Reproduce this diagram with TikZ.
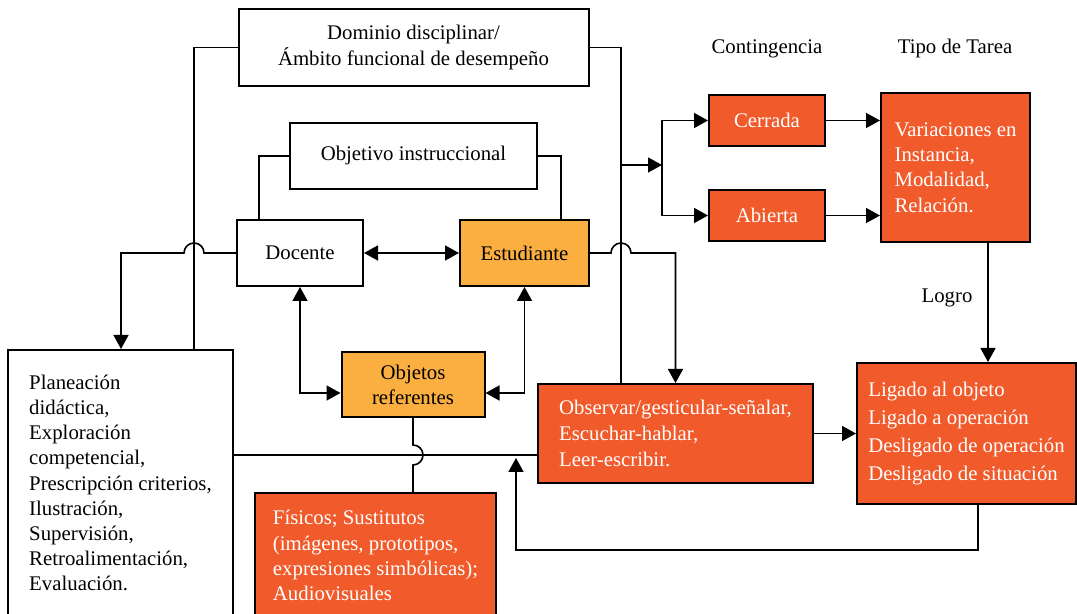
\documentclass[tikz,border=0pt]{standalone}
\usepackage{fontspec}
\setmainfont{Liberation Serif}
\usetikzlibrary{arrows.meta}
\definecolor{dorange}{HTML}{F15A2B}
\definecolor{lorange}{HTML}{FBAF40}
\begin{document}
\begin{tikzpicture}[x=0.5pt,y=-0.5pt,
  box/.style={draw=black,line width=1pt,align=left,inner sep=0pt,
    font=\fontsize{10.4}{12.6}\selectfont},
  cbox/.style={box,align=center},
  hot/.style={fill=dorange,text=white},
  warm/.style={fill=lorange},
  ln/.style={line width=0.8pt},
  arr/.style={ln,-{Triangle[length=7pt,width=7.5pt]}},
  arrb/.style={ln,{Triangle[length=7pt,width=7.5pt]}-{Triangle[length=7pt,width=7.5pt]}},
  lbl/.style={font=\fontsize{10.4}{12.6}\selectfont,inner sep=0pt}]
\useasboundingbox (0,0) rectangle (1077,614);
\clip (0,0) rectangle (1077,614);
\fill[white] (0,0) rectangle (1077,614);
% boxes
\node[cbox,minimum width=175pt,minimum height=38.5pt] (dom) at (413.5,47.5)
  {Dominio disciplinar/\\Ámbito funcional de desempeño};
\node[cbox,minimum width=123.5pt,minimum height=33pt] (obj) at (413.5,156) {Objetivo instruccional};
\node[cbox,minimum width=63pt,minimum height=33pt] (doc) at (300,253) {Docente};
\node[cbox,warm,minimum width=64.5pt,minimum height=33pt] (est) at (524.5,253) {Estudiante};
\node[cbox,warm,minimum width=71.5pt,minimum height=32.5pt] (ref) at (413,384.5) {Objetos\\referentes};
\node[box,minimum width=112.5pt,minimum height=133pt] (plan) at (120.5,483)
  {Planeación\\didáctica,\\Exploración\\competencial,\\Prescripción criterios,\\Ilustración,\\Supervisión,\\Retroalimentación,\\Evaluación.};
\node[box,hot,minimum width=120.5pt,minimum height=62.5pt] (fis) at (375.5,555.5)
  {Físicos; Sustitutos\\(imágenes, prototipos,\\expresiones simbólicas);\\Audiovisuales};
\node[box,hot,minimum width=137.5pt,minimum height=49.5pt,
  font=\fontsize{10.4}{12.9}\selectfont] (obs) at (675.5,433.5)
  {Observar/gesticular-señalar,\\Escuchar-hablar,\\Leer-escribir.};
\node[cbox,hot,minimum width=58pt,minimum height=25.5pt] (cer) at (767,120.5) {Cerrada};
\node[cbox,hot,minimum width=58pt,minimum height=25.5pt] (abi) at (767,215.5) {Abierta};
\node[box,hot,minimum width=74.5pt,minimum height=74.5pt] (var) at (955.5,167.5)
  {Variaciones en\\Instancia,\\Modalidad,\\Relación.};
\node[box,hot,minimum width=109.5pt,minimum height=70.5pt,
  font=\fontsize{10.4}{13.9}\selectfont] (lig) at (966.5,433.5)
  {Ligado al objeto\\Ligado a operación\\Desligado de operación\\Desligado de situación};
% labels
\node[lbl] (lcon) at (767,49) {Contingencia};
\node[lbl] (ltip) at (955,49) {Tipo de Tarea};
\node[lbl] (llog) at (947,298) {Logro};
% helper coordinates
\coordinate (x121) at (121,0);
\coordinate (x194) at (194,0);
\coordinate (x259) at (259,0);
\coordinate (x561) at (561,0);
\coordinate (x621) at (621,0);
\coordinate (x988) at (988,0);
\coordinate (x978) at (978,0);
\coordinate (y393) at (0,393);
\coordinate (y455) at (0,455);
\coordinate (br) at (621,165);
\coordinate (sp) at (662,165);
\coordinate (fb) at (516,458);
% connectors
\draw[ln] (dom.west) -| (plan.north -| x194);
\draw[arr] (doc.west) -- (204,253) arc[start angle=0,end angle=180,radius=5pt] -| (plan.north -| x121);
\draw[ln] (dom.east) -| (obs.north -| x621);
\draw[arr] (br) -- (sp);
\draw[arr] (sp) |- (cer.west);
\draw[arr] (sp) |- (abi.west);
\draw[ln] (obj.west) -| (doc.north -| x259);
\draw[ln] (obj.east) -| (est.north -| x561);
\draw[arrb] (doc.east) -- (est.west);
\draw[arrb] (doc.south) |- (ref.west |- y393);
\draw[arrb] (est.south) |- (ref.east |- y393);
\draw[arr] (est.east) -- (611,253) arc[start angle=180,end angle=0,radius=5pt] -| (obs.north);
\draw[ln] (ref.south) -- (413,445) arc[start angle=90,end angle=-90,radius=5pt] -- (ref.south |- fis.north);
\draw[ln] (plan.east |- y455) -- (obs.west |- y455);
\draw[arr] (obs.east) -- (lig.west);
\draw[arr] (cer.east) -- (cer.east -| var.west);
\draw[arr] (abi.east) -- (abi.east -| var.west);
\draw[arr] (var.south -| x988) -- (lig.north -| x988);
\draw[arr] (lig.south -| x978) -- (978,550) -| (fb);
\end{tikzpicture}
\end{document}
